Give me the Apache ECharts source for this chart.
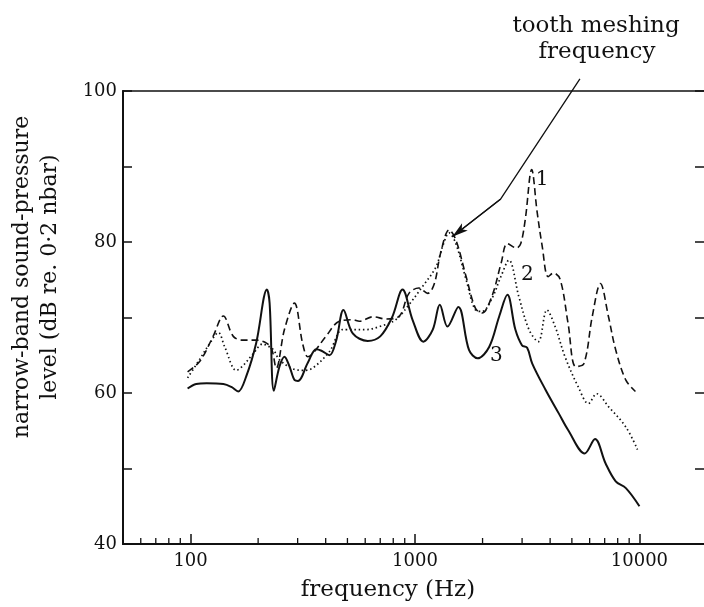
<!DOCTYPE html>
<html><head><meta charset="utf-8">
<script src="https://cdn.jsdelivr.net/npm/echarts@6/dist/echarts.min.js"></script>
<style>html,body{margin:0;padding:0;background:#fff}#c{width:704px;height:607px}</style>
</head><body><div id="c"></div>
<script>
// curve 1 (dashed), frequency Hz vs dB
const curve1 = [[97,62.8],[110,64.2],[126,67.5],[140,70.2],[155,67.5],[171,67.0],[196,67.0],[218,66.6],[230,65.8],[241,63.3],[262,68.4],[290,71.9],[316,66.5],[333,64.8],[350,65.2],[401,67.5],[460,69.5],[528,69.7],[565,69.5],[650,70.1],[743,69.8],[852,70.2],[940,73.2],[1040,73.9],[1140,73.2],[1220,74.5],[1300,78.5],[1420,81.6],[1520,80.3],[1690,75.4],[1860,71.2],[1990,70.6],[2200,72.8],[2420,77.2],[2580,79.8],[2830,79.2],[2960,79.8],[3100,83.0],[3310,89.6],[3500,84.0],[3690,79.4],[3920,75.4],[4140,75.9],[4440,75.0],[4810,69.2],[5200,63.5],[5660,63.9],[6160,70.1],[6700,74.5],[7280,70.1],[7840,65.7],[8700,61.7],[9600,60.2]];
// curve 2 (dotted)
const curve2 = [[97,62.0],[110,64.5],[122,66.6],[133,68.0],[142,66.1],[160,63.0],[171,63.6],[190,65.2],[210,66.5],[218,66.3],[233,65.8],[249,64.4],[286,63.2],[320,63.0],[350,63.3],[416,65.5],[476,68.4],[528,68.4],[605,68.4],[695,68.8],[820,69.7],[940,71.7],[1080,74.1],[1240,76.7],[1330,79.5],[1420,81.2],[1520,79.8],[1690,75.0],[1860,71.0],[1990,70.8],[2200,72.5],[2420,75.5],[2620,77.6],[2900,72.8],[3220,68.4],[3540,66.8],[3870,71.0],[4210,68.8],[4660,64.8],[5340,60.8],[5930,58.6],[6450,59.9],[7280,58.2],[8700,55.5],[9800,52.5]];
// curve 3 (solid)
const curve3 = [[97,60.6],[106,61.2],[118,61.3],[140,61.2],[152,60.8],[163,60.2],[177,62.2],[196,66.6],[219,73.7],[225,71.9],[235,60.3],[249,63.5],[262,64.8],[276,63.5],[291,61.7],[301,61.6],[333,64.0],[363,65.8],[383,65.6],[416,65.0],[446,67.0],[480,71.0],[528,67.9],[616,66.9],[700,67.5],[790,70.0],[880,73.7],[975,69.7],[1090,66.8],[1200,68.4],[1290,71.7],[1395,68.8],[1560,71.4],[1740,65.7],[1900,64.6],[2140,66.1],[2370,70.1],[2580,73.0],[2800,68.4],[3000,66.3],[3160,66.0],[3330,63.9],[3820,60.4],[4370,57.3],[4810,55.1],[5710,52.0],[6340,53.9],[7060,50.7],[7840,48.3],[8700,47.4],[10000,45.0]];
const xTickLabels = [100, 1000, 10000];
const yTickLabels = [40, 60, 80, 100];
const minorTicks = [60,70,80,90,200,300,400,500,600,700,800,900,2000,3000,4000,5000,6000,7000,8000,9000];
const curveNames = [['1', 3680, 88.2], ['2', 3170, 75.6], ['3', 2307, 64.9]];
const arrowPath = [[5430, 101.6], [2410, 85.7], [1466, 80.7]];

const FONT = 'DejaVu Serif';
const INK = '#111';
const chart = echarts.init(document.getElementById('c'), null, {renderer: 'canvas'});
chart.setOption({
  animation: false,
  backgroundColor: '#fff',
  grid: {left: 123, right: -3, top: 91, bottom: 63, show: true, borderColor: INK, borderWidth: 1.5,
    containLabel: false, outerBoundsMode: 'none'},
  xAxis: {
    type: 'log', logBase: 10, min: 50, max: 20000,
    axisLine: {show: true, lineStyle: {color: INK, width: 2}},
    axisTick: {show: true, inside: true, length: 10, lineStyle: {color: INK, width: 1.5}},
    axisLabel: {margin: 8, color: INK, fontFamily: FONT, fontSize: 18,
      formatter: v => xTickLabels.includes(Math.round(v)) ? String(Math.round(v)) : ''},
    splitLine: {show: false}, minorTick: {show: false}
  },
  yAxis: [{
    type: 'value', min: 40, max: 100, interval: 10,
    axisLine: {show: true, lineStyle: {color: INK, width: 2}},
    axisTick: {show: true, inside: true, length: 9, lineStyle: {color: INK, width: 1.5}},
    axisLabel: {margin: 6, color: INK, fontFamily: FONT, fontSize: 18,
      formatter: v => yTickLabels.includes(v) ? String(v) : ''},
    splitLine: {show: false}
  }, {
    type: 'value', min: 40, max: 100, interval: 10, position: 'right',
    axisLine: {show: false},
    axisTick: {show: true, inside: true, length: 12, lineStyle: {color: INK, width: 1.5}},
    axisLabel: {show: false}, splitLine: {show: false}
  }],
  graphic: [
    {type: 'text', x: 596, y: 26, style: {text: 'tooth meshing', font: '23px "DejaVu Serif"', fill: INK, align: 'center', verticalAlign: 'middle'}},
    {type: 'text', x: 597, y: 52, style: {text: 'frequency', font: '23px "DejaVu Serif"', fill: INK, align: 'center', verticalAlign: 'middle'}},
    {type: 'text', x: 388, y: 590, style: {text: 'frequency (Hz)', font: '23px "DejaVu Serif"', fill: INK, align: 'center', verticalAlign: 'middle'}},
    {type: 'text', x: 22, y: 277, rotation: Math.PI / 2, style: {text: 'narrow-band sound-pressure', font: '22px "DejaVu Serif"', fill: INK, align: 'center', verticalAlign: 'middle'}},
    {type: 'text', x: 50, y: 277, rotation: Math.PI / 2, style: {text: 'level (dB re. 0·2 nbar)', font: '22px "DejaVu Serif"', fill: INK, align: 'center', verticalAlign: 'middle'}}
  ],
  series: [
    {type: 'line', name: '1', data: curve1, smooth: 0.35, showSymbol: false, symbol: 'none',
      lineStyle: {color: INK, width: 1.6, type: [7, 4]}},
    {type: 'line', name: '2', data: curve2, smooth: 0.35, showSymbol: false, symbol: 'none',
      lineStyle: {color: INK, width: 1.7, type: [1.5, 2.8]}},
    {type: 'line', name: '3', data: curve3, smooth: 0.35, showSymbol: false, symbol: 'none',
      lineStyle: {color: INK, width: 2}},
    {type: 'line', name: 'arrow', data: arrowPath, clip: false, showSymbol: false, symbol: 'none',
      lineStyle: {color: INK, width: 1.3},
      markLine: {silent: true, symbol: ['none', 'arrow'], symbolSize: [7, 16],
        lineStyle: {color: INK, width: 1.3, type: 'solid'}, label: {show: false},
        data: [[{coord: arrowPath[1]}, {coord: arrowPath[2]}]]}},
    {type: 'custom', name: 'curveNames', data: curveNames, silent: true,
      encode: {x: 1, y: 2},
      renderItem: (params, api) => {
        const p = api.coord([api.value(1), api.value(2)]);
        return {type: 'text', x: p[0], y: p[1],
          style: {text: curveNames[params.dataIndex][0], font: '20px "DejaVu Serif"', fill: INK, align: 'center', verticalAlign: 'middle'}};
      }},
    {type: 'custom', name: 'minorTicks', data: minorTicks.map(v => [v]), silent: true,
      renderItem: (params, api) => {
        const p = api.coord([api.value(0), 40]);
        return {type: 'line', shape: {x1: p[0], y1: p[1], x2: p[0], y2: p[1] - 6},
          style: {stroke: INK, lineWidth: 1.3}};
      }}
  ]
});
</script></body></html>
